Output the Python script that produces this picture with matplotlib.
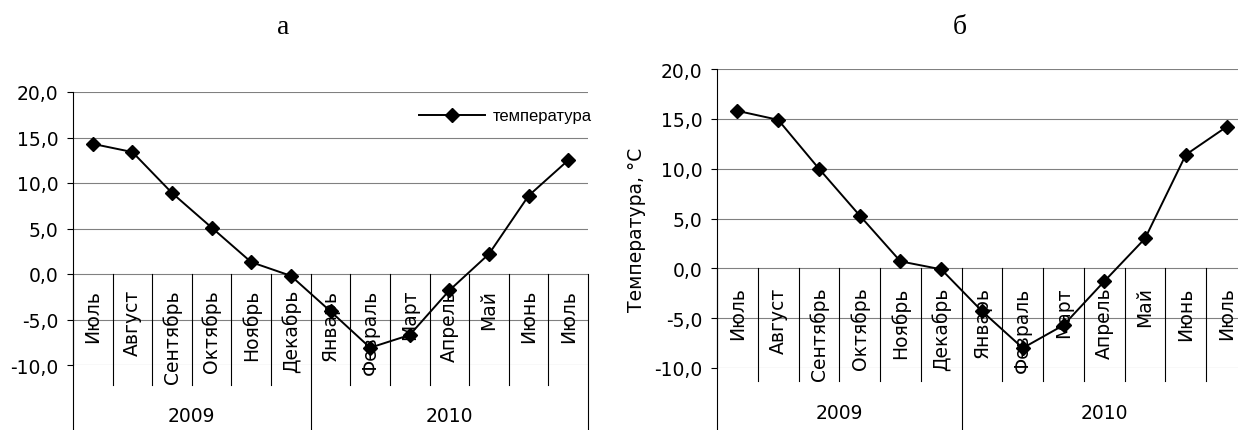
import matplotlib
matplotlib.use('Agg')
import matplotlib.pyplot as plt
from matplotlib.transforms import offset_copy
from matplotlib.ticker import FuncFormatter, MultipleLocator

# Среднемесячная температура, июль 2009 – июль 2010
months = ['Июль', 'Август', 'Сентябрь', 'Октябрь', 'Ноябрь', 'Декабрь',
          'Январь', 'Февраль', 'Март', 'Апрель', 'Май', 'Июнь', 'Июль']
years = ['2009', '2010']
year_bounds = [0, 6, 13]
temp_a = [14.3, 13.4, 8.9, 5.1, 1.3, -0.2, -4.1, -8.1, -6.7, -1.8, 2.2, 8.6, 12.5]
temp_b = [15.8, 14.9, 10.0, 5.3, 0.7, -0.1, -4.3, -8.0, -5.7, -1.3, 3.0, 11.4, 14.2]

plt.rcParams['font.family'] = ['DejaVu Sans']
AXFS = 13.5

W, H = 1238, 431
fig = plt.figure(figsize=(W / 100, H / 100), dpi=100)


def panel(box, temps, band, lab_gap, year_gap):
    left, top, right, bottom = box  # в пикселях
    ax = fig.add_axes([left / W, 1 - bottom / H, (right - left) / W, (bottom - top) / H])
    xs = [i + 0.5 for i in range(len(temps))]
    ax.plot(xs, temps, color='black', lw=1.4, marker='D', ms=7,
            label='температура', clip_on=False, zorder=5)
    ax.set_xlim(0, len(months))
    ax.set_ylim(-10, 20)
    ax.yaxis.set_major_locator(MultipleLocator(5))
    ax.yaxis.set_major_formatter(FuncFormatter(lambda v, p: f'{v:.1f}'.replace('.', ',')))
    ax.grid(axis='y', color='#808080', lw=0.8)
    ax.set_axisbelow(True)
    ax.set_xticks([])
    for s in ['top', 'right', 'bottom']:
        ax.spines[s].set_visible(False)
    ax.spines['left'].set_linewidth(0.8)
    ax.tick_params(axis='y', direction='out', length=4.5, width=0.8, pad=6, labelsize=AXFS)

    # двухуровневая ось категорий: месяцы и годы
    ppu = (bottom - top) / 30
    for i in range(len(months) + 1):
        depth = 250 if i in year_bounds else band
        ax.plot([i, i], [0, -depth / ppu], color='black', lw=0.8, clip_on=False, zorder=2)
    lab_tr = offset_copy(ax.transData, fig=fig, x=0, y=-lab_gap, units='dots')
    for i, m in enumerate(months):
        ax.text(i + 0.5, 0, m, rotation=90, ha='center', va='top',
                fontsize=AXFS, transform=lab_tr, zorder=3)
    yr_tr = offset_copy(ax.transData, fig=fig, x=0, y=-year_gap, units='dots')
    for k, y in enumerate(years):
        c = (year_bounds[k] + year_bounds[k + 1]) / 2
        ax.text(c, 0, y, ha='center', va='center', fontsize=AXFS, transform=yr_tr)
    return ax


ax_a = panel((73, 93, 588, 366), temp_a, 111, 15, 142)
ax_a.legend(loc='center right', bbox_to_anchor=(592 / W, 1 - 117 / H),
            bbox_transform=fig.transFigure, frameon=False, handlelength=4,
            handletextpad=0.45, borderpad=0, borderaxespad=0,
            prop={'family': 'Liberation Sans', 'size': 12})

ax_b = panel((717, 70, 1247, 369), temp_b, 113, 18, 144)
ax_b.set_ylabel('Температура, °С', fontsize=AXFS)
ax_b.yaxis.set_label_coords((646 - 717) / 530, 0.465)

fig.text(283 / W, 1 - 27 / H, 'а', family='Liberation Serif', fontsize=20,
         ha='center', va='center')
fig.text(960 / W, 1 - 27 / H, 'б', family='Liberation Serif', fontsize=20,
         ha='center', va='center')

fig.savefig('out.png', dpi=100)
